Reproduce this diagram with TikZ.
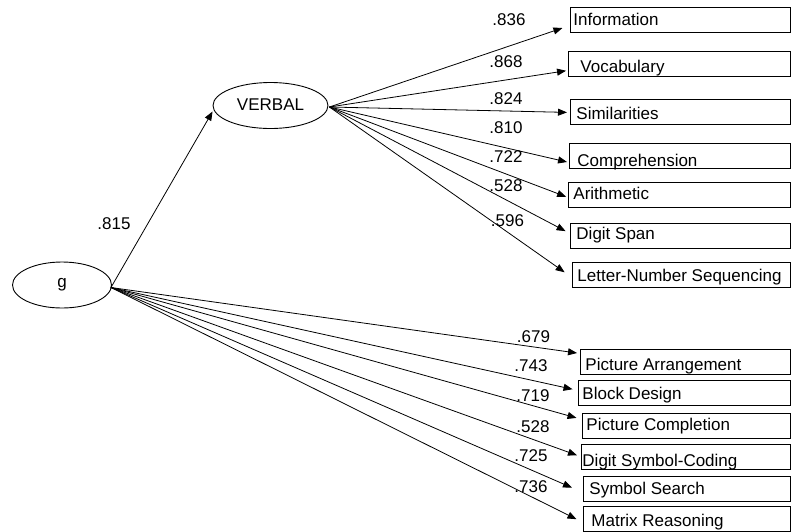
\documentclass[tikz,border=0pt]{standalone}
\usepackage{fontspec}
\setmainfont{Liberation Sans}
\usetikzlibrary{arrows.meta,shapes.geometric}
\newcommand\boxtxt[4]{\makebox[#1pt][l]{\hspace*{#2pt}\raisebox{#3pt}{#4}}}
\begin{document}
\begin{tikzpicture}[x=1pt,y=-1pt,font=\fontsize{17}{19}\selectfont,
  lat/.style={draw, ellipse, line width=0.9pt, inner sep=0pt},
  obs/.style={draw, line width=0.9pt, inner sep=0pt, anchor=north west, text height=17.5pt, text depth=7pt},
  arr/.style={line width=0.8pt, -{Triangle[length=9pt,width=7pt]}},
  val/.style={inner sep=0pt}]
\useasboundingbox (0,0) rectangle (792,531);
% latent variables
\node[lat, minimum width=99pt, minimum height=46pt] (g) at (62,285) {g};
\node[lat, minimum width=115pt, minimum height=46pt] (V) at (270.5,105.5) {\raisebox{2pt}{VERBAL}};
% verbal indicators
\node[obs] (info) at (570,7) {\boxtxt{220}{3}{-1}{Information}};
\node[obs] (voc) at (568,51) {\boxtxt{222}{12}{-3.7}{Vocabulary}};
\node[obs] (sim) at (570,99) {\boxtxt{220}{6}{-2.3}{Similarities}};
\node[obs] (comp) at (569,143) {\boxtxt{221}{8}{-6}{Comprehension}};
\node[obs] (arith) at (568,182) {\boxtxt{222}{5}{0}{Arithmetic}};
\node[obs] (dspan) at (570,223) {\boxtxt{220}{6}{1.7}{Digit Span}};
\node[obs] (lns) at (572,262) {\boxtxt{218}{5}{-1.7}{Letter-Number Sequencing}};
% performance indicators
\node[obs] (pa) at (580,349) {\boxtxt{210}{5}{-3.3}{Picture Arrangement}};
\node[obs] (bd) at (578,380) {\boxtxt{212}{4}{-1.3}{Block Design}};
\node[obs] (pc) at (582,413) {\boxtxt{208}{4}{0}{Picture Completion}};
\node[obs] (dsc) at (581,444) {\boxtxt{209}{1}{-4.7}{Digit Symbol-Coding}};
\node[obs] (ss) at (583,476) {\boxtxt{207}{6}{-1}{Symbol Search}};
\node[obs] (mr) at (583,506) {\boxtxt{207}{8}{-2.7}{Matrix Reasoning}};
% g -> VERBAL
\draw[arr] ([shift={(-1pt,-2.5pt)}]g.east) -- ([yshift=-6pt]V.west);
\node[val] (l0) at (114,224) {.815};
% VERBAL -> indicators
\draw[arr, shorten >=8pt] ([shift={(1pt,-1.5pt)}]V.east) -- ([yshift=-5.75pt]info.west);
\draw[arr, shorten >=2pt] ([shift={(1pt,-1.5pt)}]V.east) -- ([yshift=-6.75pt]voc.west);
\draw[arr, shorten >=3pt] ([shift={(1pt,-1.5pt)}]V.east) -- ([yshift=-0.75pt]sim.west);
\draw[arr, shorten >=2pt] ([shift={(1pt,-1.5pt)}]V.east) -- ([yshift=-6.75pt]comp.west);
\draw[arr, shorten >=2pt] ([shift={(1pt,-1.5pt)}]V.east) -- ([yshift=-2.75pt]arith.west);
\draw[arr, shorten >=5pt] ([shift={(1pt,-1.5pt)}]V.east) -- ([yshift=2.25pt]dspan.west);
\draw[arr, shorten >=9pt] ([shift={(1pt,-1.5pt)}]V.east) -- ([yshift=-2.75pt]lns.west);
\node[val] (l1) at (509,19.5) {.836};
\node[val] (l2) at (506,62) {.868};
\node[val] (l3) at (506,99) {.824};
\node[val] (l4) at (506,127.5) {.810};
\node[val] (l5) at (506,156.5) {.722};
\node[val] (l6) at (506,186) {.528};
\node[val] (l7) at (507.5,220.5) {.596};
% g -> performance indicators
\draw[arr, shorten >=3pt] ([shift={(-1pt,-2.5pt)}]g.east) -- ([yshift=8.25pt]pa.west);
\draw[arr, shorten >=5.6pt] ([shift={(-1pt,-2.5pt)}]g.east) -- ([yshift=2.25pt]bd.west);
\draw[arr, shorten >=5.7pt] ([shift={(-1pt,-2.5pt)}]g.east) -- ([yshift=6.25pt]pc.west);
\draw[arr, shorten >=4.3pt] ([shift={(-1pt,-2.5pt)}]g.east) -- (dsc.west);
\draw[arr, shorten >=12pt] ([shift={(-1pt,-2.5pt)}]g.east) -- ([yshift=-3.75pt]ss.west);
\draw[arr, shorten >=7.3pt] ([shift={(-1pt,-2.5pt)}]g.east) -- ([yshift=-3.75pt]mr.west);
\node[val] (l8) at (533.5,336.5) {.679};
\node[val] (l9) at (531,365.5) {.743};
\node[val] (l10) at (533,395.5) {.719};
\node[val] (l11) at (533,426.5) {.528};
\node[val] (l12) at (531,456) {.725};
\node[val] (l13) at (531,486.5) {.736};
\end{tikzpicture}
\end{document}
